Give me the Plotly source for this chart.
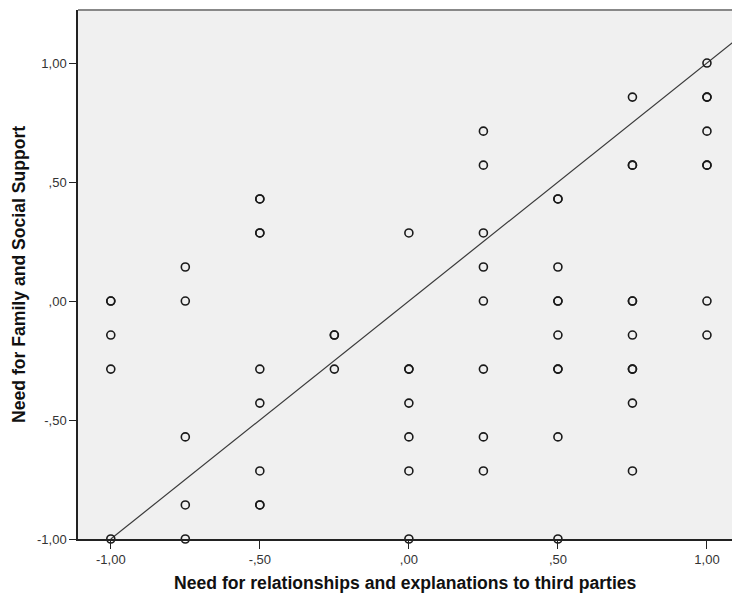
import plotly.graph_objects as go

# Data (x = need for relationships..., y = need for family and social support)
x_vals = [
    -1.0, -1.0, -1.0, -1.0, -1.0,
    -0.75, -0.75, -0.75, -0.75, -0.75,
    -0.5, -0.5, -0.5, -0.5, -0.5, -0.5, -0.5, -0.5, -0.5,
    -0.25, -0.25, -0.25,
    0.0, 0.0, 0.0, 0.0, 0.0, 0.0, 0.0,
    0.25, 0.25, 0.25, 0.25, 0.25, 0.25, 0.25, 0.25,
    0.5, 0.5, 0.5, 0.5, 0.5, 0.5, 0.5, 0.5, 0.5, 0.5,
    0.75, 0.75, 0.75, 0.75, 0.75, 0.75, 0.75, 0.75, 0.75, 0.75,
    1.0, 1.0, 1.0, 1.0, 1.0, 1.0, 1.0, 1.0,
]
y_vals = [
    0.0, 0.0, -0.143, -0.286, -1.0,
    0.143, 0.0, -0.571, -0.857, -1.0,
    0.429, 0.429, 0.286, 0.286, -0.286, -0.429, -0.714, -0.857, -0.857,
    -0.143, -0.143, -0.286,
    0.286, -0.286, -0.286, -0.429, -0.571, -0.714, -1.0,
    0.714, 0.571, 0.286, 0.143, 0.0, -0.286, -0.571, -0.714,
    0.429, 0.429, 0.143, 0.0, 0.0, -0.143, -0.286, -0.286, -0.571, -1.0,
    0.857, 0.571, 0.571, 0.0, 0.0, -0.143, -0.286, -0.286, -0.429, -0.714,
    1.0, 0.857, 0.857, 0.714, 0.571, 0.571, 0.0, -0.143,
]
line_x = [-1.0, 1.2]
line_y = [-1.0, 1.2]

tick_vals = [-1.0, -0.5, 0.0, 0.5, 1.0]
tick_text = ["-1,00", "-,50", ",00", ",50", "1,00"]

x_title = "Need for relationships and explanations to third parties"
y_title = "Need for Family and Social Support"

FONT = "Liberation Sans, Arial, sans-serif"

fig = go.Figure()
fig.add_trace(go.Scatter(
    x=line_x, y=line_y, mode="lines",
    line=dict(color="#3a3a3a", width=1.2),
    hoverinfo="skip", showlegend=False,
))
fig.add_trace(go.Scatter(
    x=x_vals, y=y_vals, mode="markers",
    marker=dict(symbol="circle-open", size=8, color="#1a1a1a",
                line=dict(width=1.6, color="#1a1a1a")),
    showlegend=False, cliponaxis=False,
))

axis_common = dict(
    tickvals=tick_vals, ticktext=tick_text,
    ticks="outside", tickcolor="#222", tickwidth=1,
    showgrid=False, zeroline=False,
    showline=True, linecolor="#222", linewidth=1.5,
    tickfont=dict(size=13, color="#333", family=FONT),
    automargin=False,
)

fig.update_layout(
    width=732, height=596,
    margin=dict(l=78, r=0, t=10, b=57, autoexpand=False),
    paper_bgcolor="white",
    plot_bgcolor="#f0f0f0",
    font=dict(family=FONT, color="#222222"),
    xaxis=dict(range=[-1.11, 1.084], ticklen=8, **axis_common),
    yaxis=dict(range=[-1.0, 1.223], ticklen=7, **axis_common),
    shapes=[dict(type="line", xref="paper", yref="paper",
                 x0=0, x1=1, y0=1, y1=1,
                 line=dict(color="#888888", width=2))],
    annotations=[
        dict(text="<b>" + x_title + "</b>", xref="paper", yref="paper",
             x=0.5, y=-(583 - 539) / 529, xanchor="center", yanchor="middle",
             showarrow=False, font=dict(size=17.6, color="#111", family=FONT)),
        dict(text="<b>" + y_title + "</b>", xref="paper", yref="paper",
             x=(18.5 - 78) / 654, y=0.5, xanchor="center", yanchor="middle",
             textangle=-90, showarrow=False,
             font=dict(size=17.6, color="#111", family=FONT)),
    ],
)

fig.write_html("out.html",
               config={"displayModeBar": False},
               post_script="document.body.style.margin='0';")
